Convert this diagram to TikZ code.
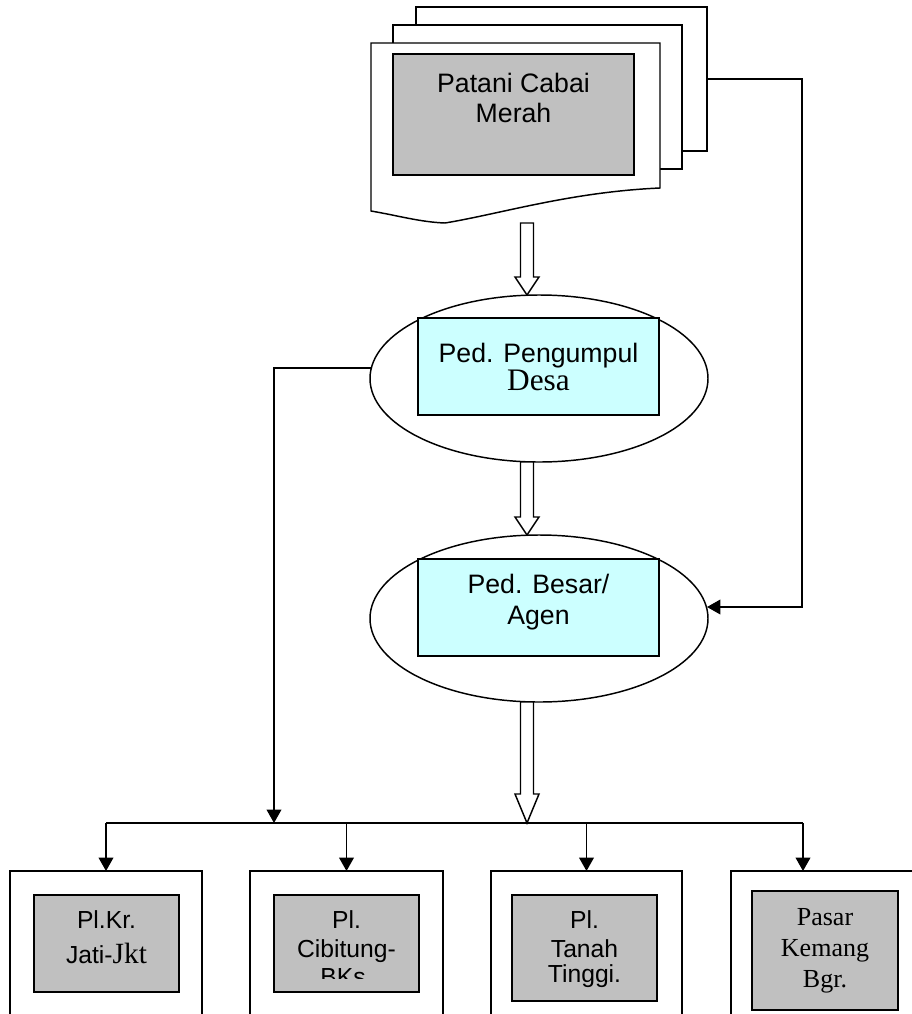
\documentclass[tikz,border=0pt]{standalone}
\usepackage{fontspec}
\setmainfont{Liberation Serif}
\newfontfamily\arialf{Liberation Sans}
\usetikzlibrary{arrows.meta,shapes.geometric,calc}
\definecolor{silverg}{HTML}{C0C0C0}
\definecolor{paleCyan}{HTML}{CCFFFF}
\newcommand\hollowarrow[3]{%
  \draw[fill=white] ($(#1)+(-6.5,0)$) -- ($(#2)+(-6.5,-#3)$) -- ($(#2)+(-12,-#3)$) -- (#2)
    -- ($(#2)+(12,-#3)$) -- ($(#2)+(6.5,-#3)$) -- ($(#1)+(6.5,0)$) -- cycle;}
\begin{document}
\begin{tikzpicture}[x=0.75pt,y=-0.75pt,line width=1.1pt,
  every node/.style={inner sep=0pt,outer sep=0pt},
  page/.style={draw,fill=white},
  graybox/.style={draw,fill=silverg,minimum width=#1},
  cyanbox/.style={draw,fill=paleCyan,minimum width=180.75pt,minimum height=72.75pt},
  oval/.style={draw,fill=white,ellipse,minimum width=253.5pt,minimum height=125.25pt},
  outerbox/.style={draw,fill=white,minimum height=126.75pt,minimum width=#1},
  arialbig/.style={font=\arialf\fontsize{20}{24}\selectfont,anchor=base},
  timesbig/.style={font=\fontsize{23.5}{27}\selectfont,anchor=base},
  arialsm/.style={font=\arialf\fontsize{18.5}{22}\selectfont,anchor=base},
  timessm/.style={font=\fontsize{19.5}{23}\selectfont,anchor=base},
  conn/.style={-{Triangle[length=10pt,width=11pt]}}]
\useasboundingbox (0,0) rectangle (912,1014);
\clip (0,0) rectangle (912,1014);
% multi-document shape
\draw[page] (416,7) rectangle (707,151);
\draw[page] (393,25) rectangle (682,169);
\draw[page] (371,43) -- (660,43) -- (660,188)
  .. controls (570,192) and (500,214) .. (445,223)
  .. controls (420,222) and (400,216) .. (371,211) -- cycle;
\node[graybox=180.75pt,minimum height=90.75pt] (farmer) at (513.5,114.5) {};
\node[arialbig] (t0a) at (513.5,92) {Patani Cabai};
\node[arialbig] (t0b) at (513.5,122) {Merah};
\coordinate (docR) at (707,79);
\coordinate (a1s) at (527,223);
% ellipses
\node[oval] (e1) at (539,378.5) {};
\node[cyanbox] (c1) at (538.5,366.5) {};
\node[arialbig] (t1a) at (538.5,362) {Ped. Pengumpul};
\node[timesbig] (t1b) at (538.5,390) {Desa};
\node[oval] (e2) at (539,618.5) {};
\node[cyanbox] (c2) at (538.5,607.5) {};
\node[arialbig] (t2a) at (538.5,593) {Ped. Besar/};
\node[arialbig] (t2b) at (538.5,624) {Agen};
% hollow arrows
\coordinate (a1e) at (a1s |- e1.north);
\coordinate (a2s) at (a1s |- e1.south);
\coordinate (a2e) at (a1s |- e2.north);
\coordinate (a3s) at (a1s |- e2.south);
\coordinate (busy) at (0,823);
\coordinate (a3e) at (a1s |- busy);
\hollowarrow{a1s}{a1e}{18}
\hollowarrow{a2s}{a2e}{18}
\hollowarrow{a3s}{a3e}{29}
% bottom boxes
\node[outerbox=144pt] (b1) at (106,955.5) {};
\node[outerbox=144.75pt] (b2) at (346.5,955.5) {};
\node[outerbox=143.25pt] (b3) at (586.5,955.5) {};
\node[outerbox=145.5pt] (b4) at (828,955.5) {};
\node[graybox=108.75pt,minimum height=72.75pt] (g1) at (106.5,943.5) {};
\node[graybox=108.75pt,minimum height=72.75pt] (g2) at (346.5,943.5) {};
\node[graybox=108.75pt,minimum height=79.5pt] (g3) at (584.5,948) {};
\node[graybox=109.5pt,minimum height=89.25pt] (g4) at (825,950.5) {};
\node[arialsm] (t3a) at (106.5,928) {Pl.Kr.};
\node[anchor=base] (t3b) at (106.5,963) {{\arialf\fontsize{18.5}{22}\selectfont Jati-}{\fontsize{22}{26}\selectfont Jkt}};
\node[arialsm] (t4a) at (346.5,928) {Pl.};
\node[arialsm] (t4b) at (346.5,957) {Cibitung-};
\begin{scope}
  \clip (274,895) rectangle (419,978);
  \node[arialsm] (t4c) at (346.5,985) {BKs.};
\end{scope}
\node[arialsm] (t5a) at (584.5,928) {Pl.};
\node[arialsm] (t5b) at (584.5,957) {Tanah};
\node[arialsm] (t5c) at (584.5,982) {Tinggi.};
\node[timessm] (t6a) at (825,925) {Pasar};
\node[timessm] (t6b) at (825,956) {Kemang};
\node[timessm] (t6c) at (825,987) {Bgr.};
% connectors
\coordinate (bendR) at (802,79);
\coordinate (e2R) at (707,607);
\draw[conn] (docR) -- (bendR) |- (e2R);
\coordinate (e1L) at (371,368);
\coordinate (busL) at (274,823);
\draw[conn] (e1L) -| (busL);
\coordinate (b4top) at ($(b4.north west)+(72,0)$);
\draw (b1.north |- busy) -- (b4top |- busy);
\draw[conn] (b1.north |- busy) -- (b1.north);
\draw[conn] (b2.north |- busy) -- (b2.north);
\draw[conn] (b3.north |- busy) -- (b3.north);
\draw[conn] (b4top |- busy) -- (b4top);
\end{tikzpicture}
\end{document}
